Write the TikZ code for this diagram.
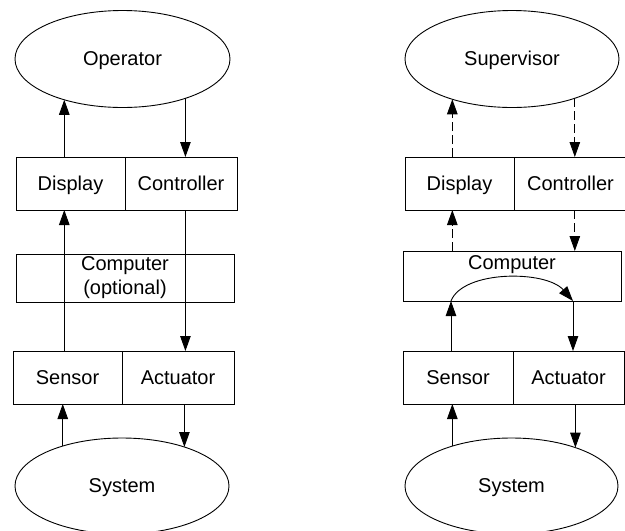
\documentclass[tikz,border=0pt]{standalone}
\usepackage{fontspec}
\setmainfont{Liberation Sans}
\usetikzlibrary{shapes.geometric,arrows.meta}
\begin{document}
\begin{tikzpicture}[x=1pt,y=-1pt,line width=0.9pt,
  every node/.style={font=\fontsize{20}{24}\selectfont},
  oval/.style={draw,ellipse,inner sep=0pt,outer sep=0pt,
    minimum width=214pt,minimum height=96pt,text height=13pt,text depth=0pt},
  cell/.style={draw,rectangle,inner sep=0pt,outer sep=0pt,
    minimum height=53pt,text height=13pt,text depth=0pt},
  tallcell/.style={draw,rectangle,inner sep=0pt,outer sep=0pt},
  arr/.style={-{Triangle[length=15pt,width=10.5pt]}},
  darr/.style={arr,dash pattern=on 9pt off 4pt}]
\useasboundingbox (0,0) rectangle (625,531);

% ---- manual control loop ----
\node[oval,minimum width=215pt,minimum height=97pt] (op) at (122.5,59) {Operator};
\node[cell,minimum width=109pt] (disp) at (70.5,183.5) {Display};
\node[cell,minimum width=112pt] (ctrl) at (181,183.5) {Controller};
\node[tallcell,minimum width=218pt,minimum height=48pt,align=center] (comp) at (125,278) {Computer\\(optional)};
\node[cell,minimum width=109pt] (sens) at (67.5,377.5) {Sensor};
\node[cell,minimum width=112pt] (act) at (178,377.5) {Actuator};
\node[oval] (sys) at (122,486) {System};

\draw[arr] (disp.north -| op.215) -- (op.215);
\draw[arr] (op.-32) -- (ctrl.north -| op.-32);
\draw[arr] (sens.north -| op.215) -- (disp.south -| op.215);
\draw[arr] (ctrl.south -| op.-32) -- (act.north -| op.-32);
\draw[arr] (sys.146) -- (sens.south -| sys.146);
\draw[arr] (act.south -| sys.32) -- (sys.32);

% ---- supervisory control loop ----
\node[oval,minimum height=97pt] (sup) at (512,59) {Supervisor};
\node[cell,minimum width=109pt] (disp2) at (459.5,183.5) {Display};
\node[cell,minimum width=113pt] (ctrl2) at (570.5,183.5) {Controller};
\node[tallcell,minimum width=218pt,minimum height=50pt] (comp2) at (512,276) {};
\node (comp2t) at (512,265) {Computer};
\node[cell,minimum width=110pt] (sens2) at (458,377.5) {Sensor};
\node[cell,minimum width=111pt] (act2) at (568.5,377.5) {Actuator};
\node[oval,minimum width=213pt] (sys2) at (511.5,486) {System};

\coordinate (cin) at (451,301);
\coordinate (cout) at (573,301);

\draw[darr] (disp2.north -| sup.214) -- (sup.214);
\draw[darr] (sup.-32) -- (ctrl2.north -| sup.-32);
\draw[darr] (comp2.north -| sup.214) -- (disp2.south -| sup.214);
\draw[darr] (ctrl2.south -| sup.-32) -- (comp2.north -| sup.-32);

\draw[arr] (sens2.north -| cin) -- (cin);
\draw[arr] (cin) .. controls (463,270) and (546,270) .. (cout);
\draw[arr] (cout) -- (act2.north -| cout);

\draw[arr] (sys2.146) -- (sens2.south -| sys2.146);
\draw[arr] (act2.south -| sys2.31) -- (sys2.31);
\end{tikzpicture}
\end{document}
